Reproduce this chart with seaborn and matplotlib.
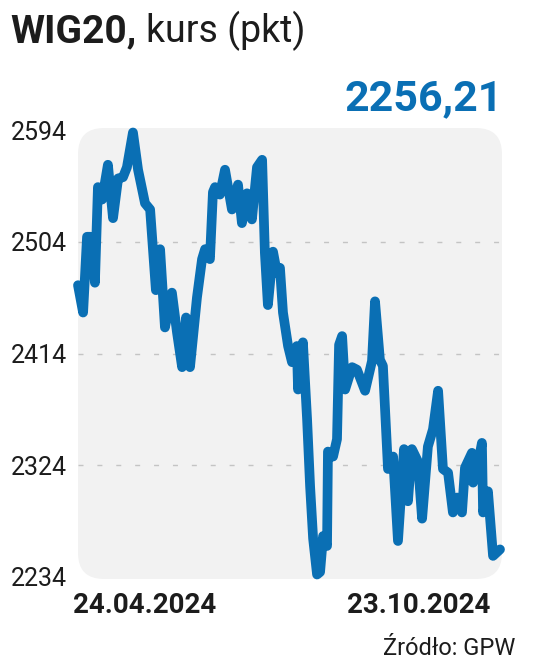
import matplotlib
matplotlib.use('Agg')
import matplotlib.pyplot as plt
import seaborn as sns
from matplotlib.patches import FancyBboxPatch
from matplotlib.transforms import IdentityTransform

# dni od 24.04.2024 i kurs WIG20 (pkt)
dni = [0, 2.2, 3.9, 5.6, 7.3, 8.6, 10.4, 12.9, 15.1, 17.3, 19.4, 21.1, 23.7, 25.9,
       28.9, 31.1, 33.6, 35.4, 37.5, 40.5, 42.7, 44.9, 46.6, 48.3, 51.3, 53.5,
       54.8, 56.9, 58.2, 59.1, 61.2, 63.4, 66.4, 69.0, 70.7, 72.9, 75.0, 77.2,
       79.4, 80.6, 81.9, 84.1, 85.8, 87.1, 88.4, 90.6, 92.3, 94.4, 94.9, 97.0,
       98.8, 100.1, 101.4, 103.1, 104.4, 105.7, 107.4, 107.8, 110.0, 111.7,
       112.6, 113.9, 115.2, 118.2, 120.3, 123.8, 126.8, 128.1, 130.2, 131.5,
       133.7, 135.9, 138.0, 140.6, 142.3, 144.0, 146.6, 148.4, 150.9, 153.1,
       155.3, 157.4, 159.6, 161.7, 163.5, 165.6, 166.9, 169.9, 170.4, 172.1,
       174.2, 174.7, 176.8, 179.0, 182]
kurs = [2469, 2447, 2508, 2508, 2471, 2548, 2538, 2566, 2523, 2555, 2556, 2564,
        2592, 2562, 2535, 2530, 2465, 2498, 2435, 2463, 2431, 2403, 2443, 2403,
        2459, 2490, 2498, 2490, 2544, 2548, 2542, 2562, 2530, 2550, 2519, 2543,
        2522, 2564, 2570, 2495, 2453, 2496, 2479, 2483, 2447, 2420, 2407, 2420,
        2385, 2423, 2361, 2307, 2265, 2236, 2238, 2267, 2259, 2335, 2331, 2345,
        2421, 2428, 2385, 2403, 2401, 2384, 2408, 2456, 2409, 2404, 2321, 2331,
        2263, 2337, 2295, 2337, 2327, 2281, 2339, 2353, 2384, 2321, 2318, 2286,
        2298, 2286, 2322, 2334, 2310, 2321, 2342, 2286, 2303, 2251, 2256.21]

ticks = [2234, 2324, 2414, 2504, 2594]
daty = ['24.04.2024', '23.10.2024']
ostatni = '2256,21'

BLUE = '#0a6fb4'
DARK = '#1c1c1c'
W, H = 536, 659

sns.set_theme(style='white')
plt.rcParams['font.family'] = ['Roboto', 'DejaVu Sans']

fig = plt.figure(figsize=(W / 100, H / 100), dpi=100)
ax = fig.add_axes([78 / W, (H - 577) / H, 422 / W, 447 / H])
ax.set_facecolor('none')

# zaokraglone szare tlo
bg = FancyBboxPatch((78, H - 579), 424, 451, boxstyle='round,pad=0,rounding_size=26',
                    transform=IdentityTransform(), fc='#f2f2f2', ec='none', zorder=0)
fig.add_artist(bg)

for t in ticks[1:-1]:
    ax.axhline(t, color='#c4c4c4', lw=1, ls=(0, (3.6, 10)), zorder=1)

sns.lineplot(x=dni, y=kurs, ax=ax, color=BLUE, lw=7, sort=False, estimator=None,
             solid_capstyle='round', solid_joinstyle='round', clip_on=False, zorder=3)

ax.set_xlim(0, 182)
ax.set_ylim(ticks[0], ticks[-1])
ax.set_xticks([])
ax.set_yticks(ticks)
ax.set_yticklabels([str(t) for t in ticks])
ax.tick_params(axis='y', length=0, pad=8, labelsize=18, labelcolor=DARK)
ax.set_xlabel('')
ax.set_ylabel('')
sns.despine(ax=ax, left=True, bottom=True)

def txt(x, y, s, **kw):
    fig.text(x / W, 1 - y / H, s, va='baseline', **kw)

txt(10, 42, 'WIG20,', fontsize=28, fontweight='bold', color=DARK)
txt(146, 42, 'kurs (pkt)', fontsize=27, color=DARK)
txt(503, 110, ostatni, fontsize=31, fontweight='bold', color=BLUE, ha='right')
txt(73, 613, daty[0], fontsize=20, fontweight='bold', color=DARK)
txt(490, 613, daty[1], fontsize=20, fontweight='bold', color=DARK, ha='right')
txt(515, 655, 'Źródło: GPW', fontsize=17, color=DARK, ha='right')

fig.savefig('out.png', dpi=100)
